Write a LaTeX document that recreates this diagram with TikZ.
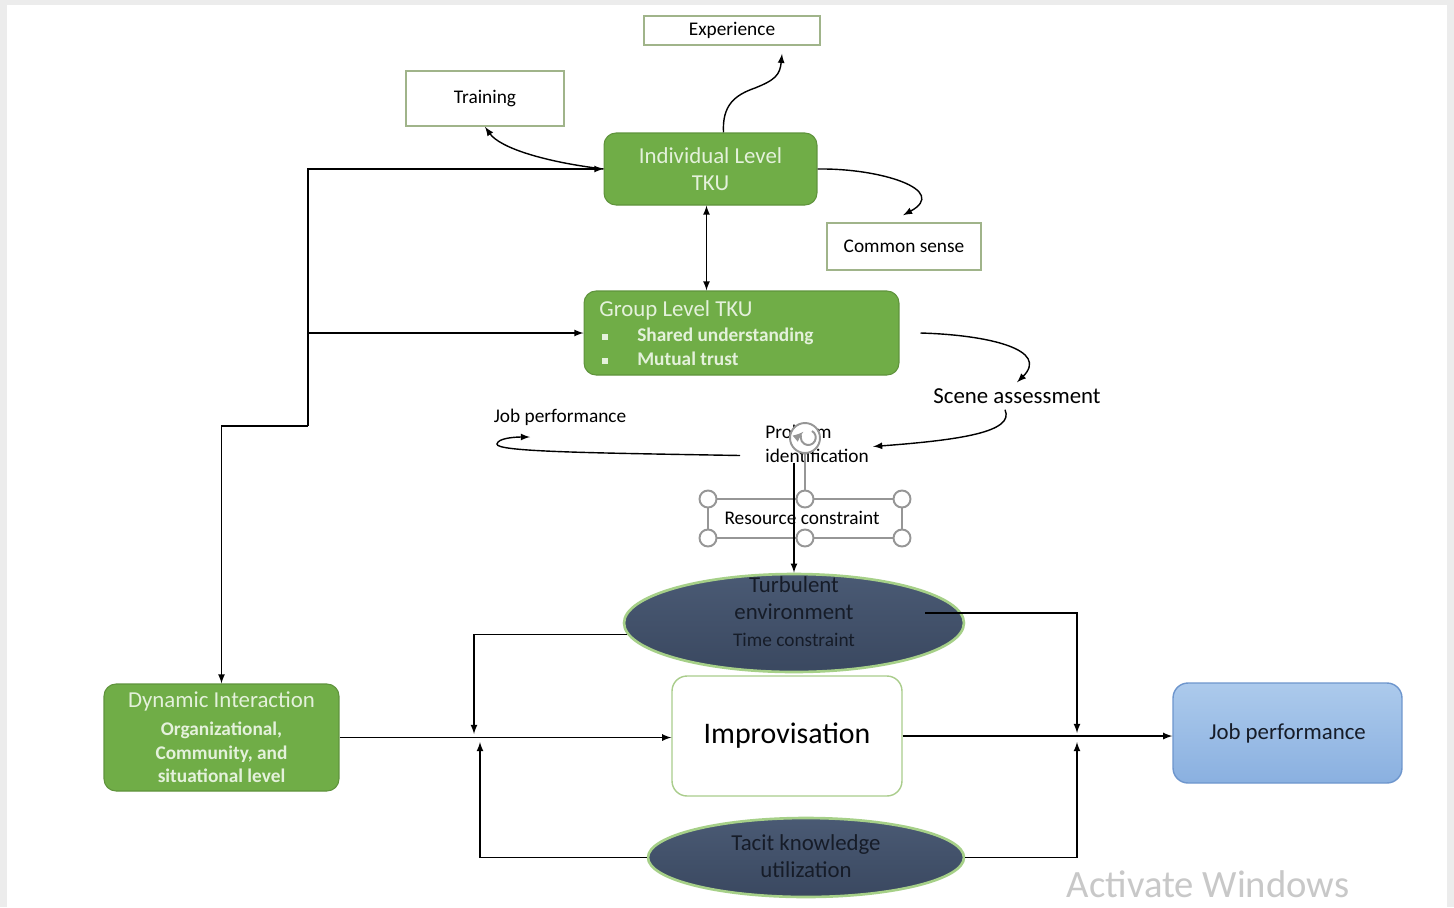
\documentclass[tikz,border=0pt]{standalone}
\usepackage{fontspec}
\setmainfont{Carlito}
\usetikzlibrary{shapes.geometric,calc}

\definecolor{tkugreen}{RGB}{112,173,71}
\definecolor{tkutext}{RGB}{228,241,219}
\definecolor{boxline}{RGB}{160,180,138}
\definecolor{slatetop}{RGB}{74,90,116}
\definecolor{slatebot}{RGB}{58,72,96}
\definecolor{glow}{RGB}{166,208,136}
\definecolor{inktext}{RGB}{22,28,40}
\definecolor{improvline}{RGB}{170,205,140}
\definecolor{jobtop}{RGB}{172,202,236}
\definecolor{jobbot}{RGB}{138,176,224}
\definecolor{jobline}{RGB}{110,150,205}
\definecolor{handle}{RGB}{150,150,150}
\definecolor{watermark}{RGB}{200,200,200}
\definecolor{pagegray}{RGB}{236,236,236}

\newcommand{\txtS}{\fontsize{11pt}{13.6pt}\selectfont}
\newcommand{\txtM}{\fontsize{13pt}{15.3pt}\selectfont}
\newcommand{\txtL}{\fontsize{17pt}{20pt}\selectfont}
\newcommand{\txtW}{\fontsize{22pt}{26pt}\selectfont}
\newcommand{\bul}{\makebox[0.76cm][l]{\hspace{0.06cm}\rule[0.1em]{0.12cm}{0.12cm}}}

\tikzset{
  plainbox/.style={draw=boxline, line width=0.9pt, fill=white, inner sep=0pt, font=\txtS},
  greenbox/.style={draw=tkugreen!85!black, line width=0.6pt, fill=tkugreen, rounded corners=0.24cm, text=tkutext, inner sep=0pt, align=center},
  darkoval/.style={ellipse, draw=glow, line width=1.5pt, top color=slatetop, bottom color=slatebot, inner sep=0pt},
  ovaltext/.style={text=inktext, align=center, font=\txtM, inner sep=0pt},
  link/.style={->, >=latex, line width=0.8pt},
  handleline/.style={draw=handle, line width=1.1pt},
}

\begin{document}
\begin{tikzpicture}[x=0.02cm, y=-0.02cm]
        % page
        \fill[pagegray] (0,0) rectangle (1454,907);
        \fill[white] (7,5) rectangle (1447,907);
        \useasboundingbox (0,0) rectangle (1454,907);

        % individual level and what hangs off it
        \node[plainbox, minimum width=3.52cm, minimum height=0.58cm] (exp) at (732,30.5) {Experience};
        \node[plainbox, minimum width=3.16cm, minimum height=1.1cm] (train) at (485,98.5) {Training};
        \node[greenbox, font=\txtM, minimum width=4.26cm, minimum height=1.44cm] (ind) at (710.5,169) {Individual Level\\TKU};
        \node[plainbox, minimum width=3.08cm, minimum height=0.94cm] (common) at (904,246.5) {Common sense};

        % group level
        \node[greenbox, minimum width=6.3cm, minimum height=1.68cm] (grp) at (741.5,333) {};
        \node[anchor=west, inner sep=0pt, text=tkutext, align=left, font=\txtS\bfseries] (grptxt) at (599,333)
            {{\txtM\mdseries Group Level TKU}\\[1pt] \bul Shared understanding\\ \bul Mutual trust};

        % middle labels
        \node[font=\txtM] (scene) at (1017,396) {Scene assessment};
        \node[font=\txtS] (jobnote) at (560,417) {Job performance};
        \node[anchor=west, inner sep=0pt, align=left, font=\txtS] (prob) at (765,443.5) {Problem\\identification};

        % selected text box with its handles
        \draw[handleline] (708,499) rectangle (902,538);
        \draw[handleline] (805,452) -- (805,499);
        \node[font=\txtS] (res) at (802,518) {Resource constraint};
        \foreach \hx in {708,805,902}
            \foreach \hy in {499,538}
                \draw[handleline, fill=white] (\hx,\hy) circle[radius=0.17cm];
        \draw[handleline, fill=white] (805,438) circle[radius=0.3cm];
        \draw[handleline, ->, >=latex] (812,431) arc[start angle=60, end angle=-230, radius=0.15cm];

        % lower part
        \node[darkoval, minimum width=6.8cm, minimum height=1.96cm] (turb) at (794,623) {};
        \node[ovaltext] (turbtxt) at (794,612) {Turbulent\\environment\\{\txtS Time constraint}};
        \node[draw=improvline, line width=0.8pt, fill=white, rounded corners=0.3cm,
              minimum width=4.6cm, minimum height=2.4cm, font=\txtL] (improv) at (787,736) {Improvisation};
        \node[darkoval, minimum width=6.32cm, minimum height=1.58cm] (tacit) at (806,857.5) {};
        \node[ovaltext] (tacittxt) at (806,856.5) {Tacit knowledge\\utilization};
        \node[greenbox, font=\txtS\bfseries, minimum width=4.7cm, minimum height=2.14cm] (dyn) at (221.5,737.5)
            {{\txtM\mdseries Dynamic Interaction}\\[2pt] Organizational,\\Community, and\\situational level};
        \node[draw=jobline, line width=0.8pt, top color=jobtop, bottom color=jobbot, rounded corners=0.3cm,
              minimum width=4.58cm, minimum height=2cm, text=inktext, font=\txtM] (job) at (1287.5,733) {Job performance};

        \node[text=watermark, font=\txtW] (winmark) at (1208,884) {Activate Windows};

        % junction points
        \coordinate (bus) at (308,426);
        \coordinate (joinLa) at (474,734);
        \coordinate (joinLb) at (480,742);
        \coordinate (joinRa) at (1077,733);
        \coordinate (joinRb) at (1077,742);

        % left feed line
        \draw[link] (bus) |- (ind.west);
        \draw[link] (bus |- grp.west) -- (grp.west);
        \draw[link] (bus) -| (dyn.north);

        % curved links at the top
        \draw[link] (ind.west) .. controls (545,162) and (500,148) .. (train.south);
        \draw[link] ($(ind.north)+(13,0)$) .. controls (722,105) and (735,95) .. (755,88)
            .. controls (775,80) and (780,75) .. ($(exp.south)+(50,8)$);
        \draw[link] (ind.east) .. controls (880,168) and (950,190) .. ($(common.north)+(-1,-7)$);
        \draw[<->, >=latex, line width=0.8pt] ($(ind.south)+(-4,0)$) -- ($(grp.north)+(-35,0)$);
        \draw[link] ($(grp.east)+(21,0)$) .. controls (990,335) and (1050,350) .. (scene.north);
        \draw[link] ($(scene.south)+(-12,0)$) .. controls (1015,432) and (960,440) .. ($(prob.east)+(4,3)$);
        \draw[link] ($(prob.west)+(-25,12)$) .. controls (600,453) and (495,452) .. (497,444)
            .. controls (498,438) and (515,437) .. ($(jobnote.center)+(-30,20)$);
        \draw[link] (prob.south -| turb.north) -- (turb.north);

        % into and out of improvisation
        \draw[link] (turb.184) -| (joinLa);
        \draw[link] (tacit.west) -| (joinLb);
        \draw[link] (dyn.east) -- (dyn.east -| improv.west);
        \draw[link] ($(turb.center)+(131,-10)$) -| (joinRa);
        \draw[link] (tacit.east) -| (joinRb);
        \draw[link] (improv.east) -- (improv.east -| job.west);
\end{tikzpicture}
\end{document}
